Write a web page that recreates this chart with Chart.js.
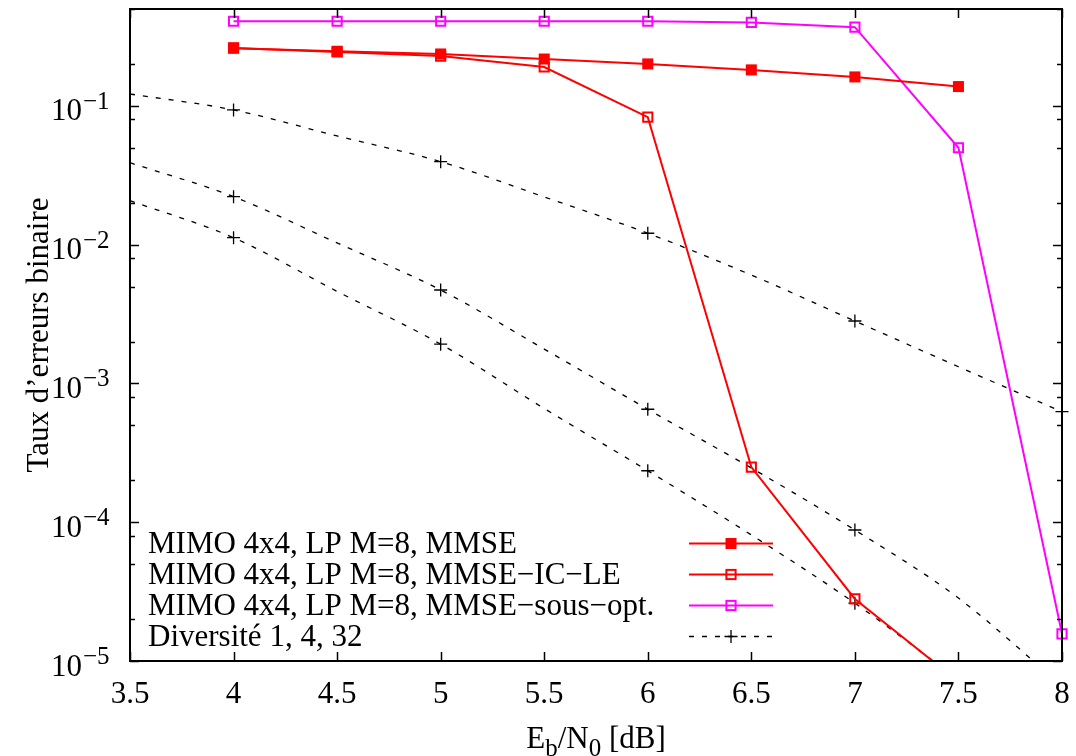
<!DOCTYPE html>
<html>
<head>
<meta charset="utf-8">
<script src="https://cdn.jsdelivr.net/npm/chart.js@4/dist/chart.umd.min.js"></script>
<style>
  html, body { margin: 0; padding: 0; background: #fff; }
</style>
</head>
<body>
<canvas id="berChart" width="1076" height="756"></canvas>
<script>
// Eb/N0 values (dB)
const snrSim = [4, 4.5, 5, 5.5, 6, 6.5, 7, 7.5];
const snrSousOpt = [4, 4.5, 5, 5.5, 6, 6.5, 7, 7.5, 8];
const snrDiv = [3.5, 4, 4.5, 5, 5.5, 6, 6.5, 7, 7.5, 8];

// bit error rates
const berMmse = [0.261, 0.248, 0.237, 0.218, 0.201, 0.182, 0.162, 0.138];
const berIcLe = [0.262, 0.245, 0.229, 0.191, 0.083, 2.5e-4, 2.8e-5, 7.1e-6];
const berSousOpt = [0.408, 0.408, 0.408, 0.408, 0.408, 0.40, 0.37, 0.050, 1.57e-5];
const berDiv1 = [0.122, 0.0936, 0.0608, 0.0397, 0.0221, 0.0121, 0.00605, 0.00282, 0.00132, 6.26e-4];
const berDiv4 = [0.039, 0.0222, 0.0103, 0.00472, 0.00177, 6.52e-4, 2.46e-4, 8.79e-5, 2.84e-5, 6.6e-6];
const berDiv32 = [0.0208, 0.01124, 0.00461, 0.00192, 6.6e-4, 2.35e-4, 8.1e-5, 2.61e-5, 7.3e-6];

const xTicks = [3.5, 4, 4.5, 5, 5.5, 6, 6.5, 7, 7.5, 8];
const yTicks = [1e-5, 1e-4, 1e-3, 1e-2, 1e-1];
const yMinorFactors = [2, 5, 8];

const legendLabels = [
    'MIMO 4x4, LP M=8, MMSE',
    'MIMO 4x4, LP M=8, MMSE\u2212IC\u2212LE',
    'MIMO 4x4, LP M=8, MMSE\u2212sous\u2212opt.',
    'Diversit\u00e9 1, 4, 32'
];
const xTitle = ['E', 'b', '/N', '0', ' [dB]'];
const yTitle = 'Taux d\u2019erreurs binaire';

const FONT = '"Liberation Serif", "Times New Roman", serif';
const RED = '#ff0000';
const MAGENTA = '#ff00ff';

function toPoints(xs, ys)
{
    return ys.map((y, i) => ({x: xs[i], y: y}));
}

const clipBox = {left: 12, top: 12, right: 12, bottom: 0};

function divDataset(values, xs)
{
    return {
        data: toPoints(xs, values),
        borderColor: '#000',
        borderWidth: 1.3,
        borderDash: [5, 8],
        cubicInterpolationMode: 'monotone',
        pointStyle: 'cross',
        pointRadius: ctx => Number.isInteger(ctx.raw.x) ? 6.5 : 0,
        pointBorderColor: '#000',
        pointBorderWidth: 1.3,
        clip: clipBox
    };
}

// gnuplot-like frame, inward ticks, labels, titles and key
const gnuplotDecor = {
    id: 'gnuplotDecor',
    afterDraw(chart)
    {
        const ctx = chart.ctx;
        const area = chart.chartArea;
        const xs = chart.scales.x;
        const ys = chart.scales.y;
        ctx.save();
        ctx.strokeStyle = '#000';
        ctx.fillStyle = '#000';

        // ticks
        ctx.lineWidth = 1.5;
        ctx.beginPath();
        xTicks.forEach(v =>
        {
            const px = Math.round(xs.getPixelForValue(v)) + 0.5;
            ctx.moveTo(px, area.bottom); ctx.lineTo(px, area.bottom - 9);
            ctx.moveTo(px, area.top); ctx.lineTo(px, area.top + 9);
        });
        yTicks.forEach(v =>
        {
            const py = Math.round(ys.getPixelForValue(v)) + 0.5;
            ctx.moveTo(area.left, py); ctx.lineTo(area.left + 9, py);
            ctx.moveTo(area.right, py); ctx.lineTo(area.right - 9, py);
            yMinorFactors.forEach(f =>
            {
                const m = v * f;
                if (m > ys.max) return;
                const pm = Math.round(ys.getPixelForValue(m)) + 0.5;
                ctx.moveTo(area.left, pm); ctx.lineTo(area.left + 5, pm);
                ctx.moveTo(area.right, pm); ctx.lineTo(area.right - 5, pm);
            });
        });
        ctx.stroke();

        // border
        ctx.lineWidth = 2;
        ctx.strokeRect(area.left, area.top, area.right - area.left, area.bottom - area.top);

        // x tick labels
        ctx.font = '31px ' + FONT;
        ctx.textAlign = 'center';
        ctx.textBaseline = 'alphabetic';
        xTicks.forEach(v =>
        {
            ctx.fillText(String(v), xs.getPixelForValue(v), 703);
        });

        // y tick labels 10^n
        yTicks.forEach(v =>
        {
            const py = ys.getPixelForValue(v);
            const e = Math.round(Math.log10(v));
            ctx.font = '31px ' + FONT;
            ctx.textAlign = 'right';
            ctx.fillText('10', 82, py + 14.5);
            ctx.font = '25px ' + FONT;
            ctx.textAlign = 'left';
            ctx.fillText('\u2212' + Math.abs(e), 83, py + 3);
        });

        // x title with subscripts
        const big = '31px ' + FONT, small = '25px ' + FONT;
        const parts = xTitle.map((t, i) => ({t: t, sub: i % 2 === 1}));
        let total = 0;
        parts.forEach(p =>
        {
            ctx.font = p.sub ? small : big;
            p.w = ctx.measureText(p.t).width;
            total += p.w;
        });
        let cx = (area.left + area.right) / 2 - total / 2;
        ctx.textAlign = 'left';
        parts.forEach(p =>
        {
            ctx.font = p.sub ? small : big;
            ctx.fillText(p.t, cx, p.sub ? 756 : 748);
            cx += p.w;
        });

        // y title
        ctx.save();
        ctx.translate(48, (area.top + area.bottom) / 2);
        ctx.rotate(-Math.PI / 2);
        ctx.font = big;
        ctx.textAlign = 'center';
        ctx.fillText(yTitle, 0, 0);
        ctx.restore();

        // key
        const rowY = [543.5, 574.5, 605.5, 636.5];
        const x0 = 689, x1 = 773, xm = 731;
        chart.data.datasets.slice(0, 4).forEach((ds, i) =>
        {
            const y = rowY[i];
            ctx.font = big;
            ctx.textAlign = 'left';
            ctx.fillStyle = '#000';
            ctx.fillText(legendLabels[i], 148, y + 9.5);

            ctx.save();
            ctx.strokeStyle = ds.borderColor;
            ctx.lineWidth = ds.borderWidth;
            ctx.setLineDash(ds.borderDash || []);
            ctx.beginPath();
            ctx.moveTo(x0, y); ctx.lineTo(x1, y);
            ctx.stroke();
            ctx.setLineDash([]);
            const r = ds.legendRadius;
            if (ds.pointStyle === 'cross')
            {
                ctx.lineWidth = 1.3;
                ctx.beginPath();
                ctx.moveTo(xm - r, y); ctx.lineTo(xm + r, y);
                ctx.moveTo(xm, y - r); ctx.lineTo(xm, y + r);
                ctx.stroke();
            }
            else if (ds.legendFilled)
            {
                ctx.fillStyle = ds.borderColor;
                ctx.fillRect(xm - 5.5, y - 5.5, 11, 11);
            }
            else
            {
                ctx.lineWidth = 2;
                ctx.strokeRect(xm - 4.6, y - 4.6, 9.2, 9.2);
            }
            ctx.restore();
        });
        ctx.restore();
    }
};

const ctx = document.getElementById('berChart').getContext('2d');
new Chart(ctx, {
    type: 'line',
    data: {
        datasets: [
            {
                data: toPoints(snrSim, berMmse),
                borderColor: RED,
                borderWidth: 2,
                pointStyle: 'rect',
                pointRadius: 7.8,
                pointBackgroundColor: RED,
                pointBorderColor: RED,
                pointBorderWidth: 0,
                legendFilled: true,
                clip: clipBox
            },
            {
                data: toPoints(snrSim, berIcLe),
                borderColor: RED,
                borderWidth: 2,
                pointStyle: 'rect',
                pointRadius: 6.5,
                pointBackgroundColor: 'rgba(0,0,0,0)',
                pointBorderColor: RED,
                pointBorderWidth: 2,
                clip: clipBox
            },
            {
                data: toPoints(snrSousOpt, berSousOpt),
                borderColor: MAGENTA,
                borderWidth: 2,
                pointStyle: 'rect',
                pointRadius: 6.5,
                pointBackgroundColor: 'rgba(0,0,0,0)',
                pointBorderColor: MAGENTA,
                pointBorderWidth: 2,
                clip: clipBox
            },
            Object.assign(divDataset(berDiv1, snrDiv), {legendRadius: 6.5}),
            divDataset(berDiv4, snrDiv),
            divDataset(berDiv32, snrDiv.slice(0, berDiv32.length))
        ]
    },
    options: {
        responsive: false,
        animation: false,
        devicePixelRatio: 1,
        layout: {padding: {left: 0, top: 9, right: 14, bottom: 0}},
        plugins: {
            legend: {display: false},
            tooltip: {enabled: false}
        },
        scales: {
            x: {
                type: 'linear',
                min: 3.5,
                max: 8,
                grid: {display: false},
                border: {display: false},
                ticks: {display: false, stepSize: 0.5},
                afterFit: scale => { scale.height = 95; }
            },
            y: {
                type: 'logarithmic',
                min: 1e-5,
                max: 0.5,
                grid: {display: false},
                border: {display: false},
                ticks: {display: false},
                afterFit: scale => { scale.width = 130; }
            }
        }
    },
    plugins: [gnuplotDecor]
});
</script>
</body>
</html>
